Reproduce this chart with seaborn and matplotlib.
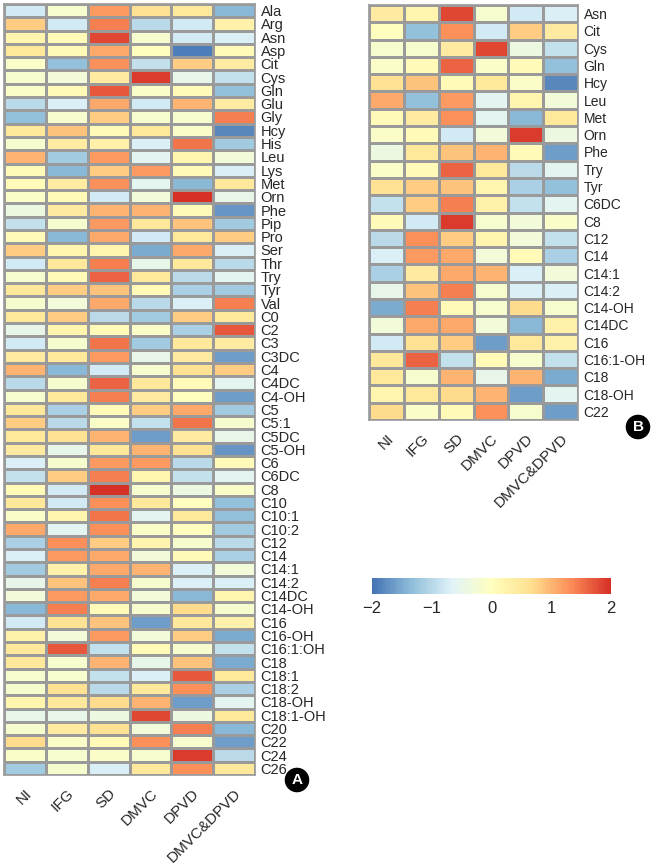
import matplotlib
matplotlib.use("Agg")
import matplotlib.pyplot as plt
from matplotlib.colors import LinearSegmentedColormap
import numpy as np
import pandas as pd
import seaborn as sns

groups = ["NI", "IFG", "SD", "DMVC", "DPVD", "DMVC&DPVD"]

rows_a = ["Ala", "Arg", "Asn", "Asp", "Cit", "Cys", "Gln", "Glu", "Gly", "Hcy",
          "His", "Leu", "Lys", "Met", "Orn", "Phe", "Pip", "Pro", "Ser", "Thr",
          "Try", "Tyr", "Val", "C0", "C2", "C3", "C3DC", "C4", "C4DC", "C4-OH",
          "C5", "C5:1", "C5DC", "C5-OH", "C6", "C6DC", "C8", "C10", "C10:1",
          "C10:2", "C12", "C14", "C14:1", "C14:2", "C14DC", "C14-OH", "C16",
          "C16-OH", "C16:1:OH", "C18", "C18:1", "C18:2", "C18-OH", "C18:1-OH",
          "C20", "C22", "C24", "C26"]

vals_a = [
    [-0.8, -0.2, 1.2, 0.6, 0.5, -1.4],
    [0.8, -0.8, 1.4, -1.0, -0.8, 0.3],
    [0.2, 0.1, 1.8, -0.2, -0.8, -0.7],
    [0.5, 0.1, 1.1, 0.0, -1.9, 0.1],
    [-0.1, -1.3, 1.3, -0.9, 0.8, 0.4],
    [-0.2, -0.3, 0.4, 1.9, -0.5, -0.9],
    [-0.1, 0.1, 1.7, -0.1, 0.1, -1.3],
    [-1.0, -0.7, 1.1, -0.8, 1.0, 0.4],
    [-1.3, -0.2, 0.8, -0.2, -0.2, 1.4],
    [0.5, 0.9, 0.1, 0.5, -0.1, -1.8],
    [-0.2, 0.4, 0.3, -0.7, 1.5, -1.2],
    [1.0, -1.2, 1.2, -0.6, 0.2, -0.3],
    [0.1, -1.4, 0.8, 1.2, 0.1, -0.7],
    [0.1, 0.4, 1.3, -0.6, -1.4, 0.5],
    [-0.1, 0.1, -0.8, -0.3, 2.0, -0.5],
    [-0.4, 0.4, 1.0, 1.0, 0.1, -1.7],
    [-0.9, -0.2, 1.2, 0.5, 0.9, -1.2],
    [0.1, -1.4, 1.1, -0.8, 0.5, 0.8],
    [0.8, 0.2, 0.2, -1.5, 1.1, -0.7],
    [-0.8, 0.5, 1.4, -0.5, 0.5, -1.0],
    [-0.2, 0.1, 1.6, 0.5, -1.0, -0.6],
    [0.5, 0.8, 0.9, 0.1, -1.1, -1.2],
    [-0.2, -0.3, 1.1, -1.0, -0.7, 1.4],
    [0.5, 0.8, -1.0, -1.2, 0.8, 0.5],
    [-0.5, 0.2, 0.1, -0.1, -1.1, 1.7],
    [-0.8, -0.2, 1.5, -1.2, 0.5, 0.4],
    [0.4, 0.5, 1.2, -0.5, 0.4, -1.6],
    [1.0, -1.4, -0.8, -0.2, 0.6, 0.8],
    [-1.0, -0.2, 1.6, 0.5, 0.1, -0.6],
    [-0.2, 0.5, 1.4, 0.4, 0.0, -1.6],
    [0.5, -1.1, 0.1, 0.8, 1.1, -1.2],
    [0.8, -1.0, -0.1, -0.9, 1.5, -0.2],
    [0.5, 0.6, 1.0, -1.6, 0.4, -0.5],
    [0.4, -0.5, 0.5, 1.0, 0.6, -1.7],
    [-0.7, -0.2, 1.2, 1.2, -1.0, 0.1],
    [-0.9, 0.8, 1.4, 0.2, -0.9, -0.6],
    [0.1, -0.8, 2.0, -0.2, -0.4, -0.1],
    [0.5, -0.8, 1.3, 0.5, 0.0, -1.3],
    [-0.1, 0.2, 1.5, -0.6, 0.5, -1.3],
    [1.1, -0.6, 1.3, -0.1, 0.0, -1.2],
    [-1.1, 1.3, 0.8, 0.2, -0.2, -1.0],
    [-0.7, 1.2, 1.1, -0.3, 0.1, -1.1],
    [-1.2, 0.3, 1.1, 1.0, -0.7, -0.3],
    [-0.5, 0.9, 1.4, -0.2, -0.7, -0.7],
    [-0.3, 1.2, 1.1, -0.3, -1.4, 0.2],
    [-1.4, 1.4, 0.1, -0.2, 0.7, -0.2],
    [-0.8, 0.6, 0.9, -1.6, 0.5, 0.3],
    [0.3, -0.3, 1.2, -0.3, 0.8, -1.5],
    [0.5, 1.7, -0.9, 0.1, -0.2, -0.9],
    [0.5, -0.2, 1.0, -0.5, 0.9, -1.5],
    [-0.2, -0.2, -0.9, -0.7, 1.7, 0.5],
    [-0.2, 0.6, -1.0, 0.5, 1.3, -1.1],
    [0.2, 0.5, 0.7, 1.0, -1.6, -0.6],
    [-0.5, -0.5, -0.4, 1.8, -0.4, 0.5],
    [-0.2, 0.4, 0.6, -0.3, 1.4, -1.4],
    [0.7, -0.1, 0.1, 1.3, -0.2, -1.6],
    [-0.1, -0.2, -0.1, -0.2, 1.9, -1.0],
    [-1.2, -0.2, -0.7, 0.5, 1.3, 0.5],
]

rows_b = ["Asn", "Cit", "Cys", "Gln", "Hcy", "Leu", "Met", "Orn", "Phe", "Try",
          "Tyr", "C6DC", "C8", "C12", "C14", "C14:1", "C14:2", "C14-OH",
          "C14DC", "C16", "C16:1-OH", "C18", "C18-OH", "C22"]

vals_b = [
    [0.4, 0.2, 1.8, -0.2, -0.8, -0.7],
    [0.0, -1.3, 1.3, -0.8, 0.8, 0.4],
    [-0.2, -0.2, 0.4, 1.8, -0.4, -0.9],
    [-0.1, 0.1, 1.6, -0.1, 0.1, -1.3],
    [0.6, 0.9, 0.1, 0.5, -0.1, -1.8],
    [1.1, -1.3, 1.2, -0.6, 0.2, -0.3],
    [0.1, 0.4, 1.3, -0.6, -1.4, 0.5],
    [-0.1, 0.1, -0.8, -0.3, 1.9, -0.4],
    [-0.4, 0.5, 0.9, 1.0, 0.1, -1.6],
    [-0.1, 0.1, 1.6, 0.5, -1.0, -0.6],
    [0.6, 0.8, 0.9, 0.2, -1.1, -1.3],
    [-0.9, 0.8, 1.4, 0.3, -0.9, -0.6],
    [0.1, -0.8, 1.9, -0.2, -0.3, -0.1],
    [-1.0, 1.3, 0.8, 0.2, -0.3, -0.9],
    [-0.7, 1.2, 1.1, -0.3, 0.1, -1.1],
    [-1.1, 0.4, 1.1, 1.0, -0.7, -0.3],
    [-0.5, 0.9, 1.4, -0.2, -0.7, -0.7],
    [-1.5, 1.4, 0.1, -0.2, 0.7, -0.2],
    [-0.3, 1.1, 1.1, -0.3, -1.4, 0.3],
    [-0.8, 0.6, 0.8, -1.6, 0.5, 0.3],
    [0.5, 1.6, -0.9, 0.1, -0.2, -0.9],
    [0.5, -0.2, 1.0, -0.5, 1.0, -1.5],
    [0.2, 0.5, 0.7, 1.0, -1.6, -0.6],
    [0.7, -0.1, 0.1, 1.3, -0.2, -1.6],
]

cbar_ticks = [-2, -1, 0, 1, 2]

# pheatmap-style palette (7 colour RdYlBu, reversed)
pal = ["#4575B4", "#91BFDB", "#E0F3F8", "#FFFFBF", "#FEE090", "#FC8D59", "#D73027"]
cmap = LinearSegmentedColormap.from_list("rdylbu7", pal, N=100)

sns.set_style("white")
plt.rcParams["font.family"] = ["Liberation Sans", "DejaVu Sans"]

df_a = pd.DataFrame(vals_a, index=rows_a, columns=groups)
df_b = pd.DataFrame(vals_b, index=rows_b, columns=groups)

fig = plt.figure(figsize=(6.56, 8.66), dpi=100)
W, H = 656, 866


def px_axes(x0, y0, x1, y1):
    return fig.add_axes([x0 / W, 1 - y1 / H, (x1 - x0) / W, (y1 - y0) / H])


ax_a = px_axes(4, 4, 255, 775)
ax_b = px_axes(369, 5, 578, 420)
cax = px_axes(372, 578, 611, 594)

grid_col = "#9a9a9a"
for ax, df, fs in [(ax_a, df_a, 10.5), (ax_b, df_b, 10)]:
    sns.heatmap(df, ax=ax, cmap=cmap, vmin=-2, vmax=2, cbar=False,
                linewidths=1.0, linecolor=grid_col,
                xticklabels=True, yticklabels=True)
    ax.yaxis.tick_right()
    ax.set_yticklabels(df.index, rotation=0, fontsize=fs, ha="left")
    ax.set_xticklabels(df.columns, rotation=45, ha="right", rotation_mode="anchor",
                       fontsize=11)
    ax.tick_params(axis="y", length=0, pad=4)
    ax.tick_params(axis="x", length=0, pad=8)
    for sp in ax.spines.values():
        sp.set_visible(True)
        sp.set_color(grid_col)
        sp.set_linewidth(1.2)

cb = fig.colorbar(ax_b.collections[0], cax=cax, orientation="horizontal",
                  ticks=cbar_ticks)
cb.outline.set_visible(False)
cb.ax.tick_params(length=0, labelsize=12, pad=5)

for label, x, y in [("A", 297, 780), ("B", 638, 427)]:
    fig.text(x / W, 1 - y / H, label, color="white", fontsize=11, fontweight="bold",
             ha="center", va="center",
             bbox=dict(boxstyle="circle,pad=0.3", fc="black", ec="black"))

plt.savefig("out.png", dpi=100)
